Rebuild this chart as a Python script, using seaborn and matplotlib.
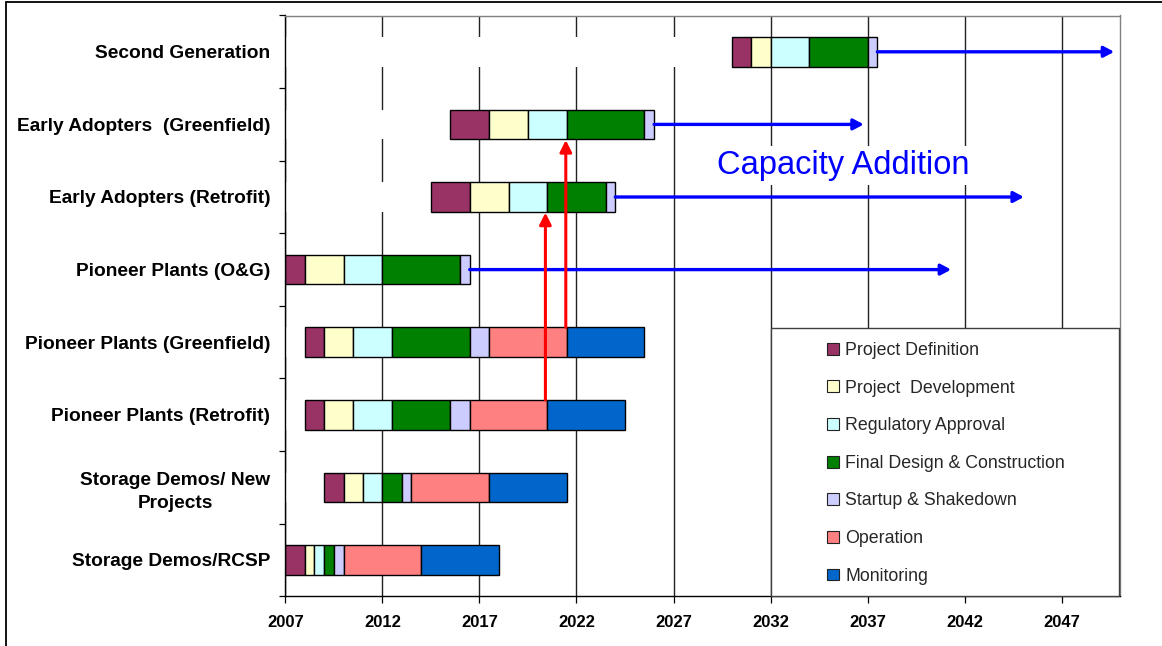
import matplotlib
matplotlib.use("Agg")
import matplotlib.pyplot as plt
from matplotlib.patches import Patch, Rectangle
from matplotlib.ticker import FixedLocator
import numpy as np
import pandas as pd
import seaborn as sns

# Rows of the roadmap, top to bottom
rows = [
    "Second Generation",
    "Early Adopters  (Greenfield)",
    "Early Adopters (Retrofit)",
    "Pioneer Plants (O&G)",
    "Pioneer Plants (Greenfield)",
    "Pioneer Plants (Retrofit)",
    "Storage Demos/ New\nProjects",
    "Storage Demos/RCSP",
]

phases = [
    "Project Definition",
    "Project  Development",
    "Regulatory Approval",
    "Final Design & Construction",
    "Startup & Shakedown",
    "Operation",
    "Monitoring",
]
phase_colors = ["#993366", "#FFFFCC", "#CCFFFF", "#008000", "#CCCCFF", "#FF8080", "#0066CC"]

# Start year of each row and the length (years) of each phase
start_year = [2030, 2015.5, 2014.5, 2007, 2008, 2008, 2009, 2007]
project_definition = [1, 2, 2, 1, 1, 1, 1, 1]
project_development = [1, 2, 2, 2, 1.5, 1.5, 1, 0.5]
regulatory_approval = [2, 2, 2, 2, 2, 2, 1, 0.5]
final_design_construction = [3, 4, 3, 4, 4, 3, 1, 0.5]
startup_shakedown = [0.5, 0.5, 0.5, 0.5, 1, 1, 0.5, 0.5]
operation = [0, 0, 0, 0, 4, 4, 4, 4]
monitoring = [0, 0, 0, 0, 4, 4, 4, 4]

# Capacity addition arrows (row, year reached)
capacity_rows = rows[:4]
capacity_end = [2049.7, 2036.8, 2045.05, 2041.3]

# Hand-off arrows from pioneer operation to early adopter construction
handoff_from = ["Pioneer Plants (Retrofit)", "Pioneer Plants (Greenfield)"]
handoff_to = ["Early Adopters (Retrofit)", "Early Adopters  (Greenfield)"]
handoff_year = [2020.4, 2021.45]

axis_start, axis_end = 2007, 2050
year_ticks = list(range(2007, 2048, 5))

durations = [project_definition, project_development, regulatory_approval,
             final_design_construction, startup_shakedown, operation, monitoring]

records = []
for i, row in enumerate(rows):
    left = start_year[i]
    for p, d in zip(phases, durations):
        if d[i] > 0:
            records.append(dict(row=row, phase=p, left=left, duration=d[i]))
        left += d[i]
segments = pd.DataFrame(records)
spacers = pd.DataFrame(dict(row=rows, duration=[s - axis_start for s in start_year]))
spacers = spacers[spacers["duration"] > 0]

sns.set_theme(style="white")
plt.rcParams["font.family"] = ["Liberation Sans", "DejaVu Sans"]

fig = plt.figure(figsize=(11.62, 6.46), dpi=100)
ax = fig.add_axes([285.3 / 1162, 1 - 596.3 / 646, (1120 - 285.3) / 1162, (596.3 - 15.5) / 646])

bar_h = 0.41

# White spacers keep the grid lines from running through the empty lead-in of each row
sns.barplot(data=spacers, x="duration", y="row", order=rows,
            left=np.full(len(spacers), axis_start), width=bar_h, color="white",
            saturation=1, linewidth=0, errorbar=None, ax=ax)

for p, c in zip(phases, phase_colors):
    sub = segments[segments["phase"] == p]
    sns.barplot(data=sub, x="duration", y="row", order=rows,
                left=sub["left"].to_numpy(), width=bar_h, color=c, saturation=1,
                edgecolor="black", linewidth=1.0, errorbar=None, ax=ax)

ax.set_xlim(axis_start, axis_end)
ax.set_ylim(len(rows) - 0.5, -0.5)
ax.set_xlabel("")
ax.set_ylabel("")

# Grid and axes styling
ax.set_axisbelow(True)
ax.set_xticks(year_ticks)
ax.set_xticklabels([str(y) for y in year_ticks], fontsize=12, fontweight="bold")
ax.xaxis.grid(True, color="#222222", linewidth=1.0)
ax.yaxis.grid(False)
ax.tick_params(axis="x", direction="out", length=5, width=0.9, color="black", pad=8.5,
               bottom=True, labelcolor="black")
ax.tick_params(axis="y", which="major", length=0, pad=10.8, left=True)
ax.yaxis.set_minor_locator(FixedLocator(np.arange(-0.5, len(rows), 1.0)))
ax.tick_params(axis="y", which="minor", direction="out", length=4.3, width=0.9,
               color="black", left=True)
for t in ax.get_yticklabels():
    t.set_fontweight("bold")
    t.set_fontsize(13.8)
    t.set_color("black")
    t.set_multialignment("center")
    t.set_linespacing(1.45)

for side in ["left", "bottom"]:
    ax.spines[side].set_color("black")
    ax.spines[side].set_linewidth(1.0)
for side in ["top", "right"]:
    ax.spines[side].set_color("#808080")
    ax.spines[side].set_linewidth(1.0)

row_pos = {r: i for i, r in enumerate(rows)}

# Capacity addition arrows
for r, end in zip(capacity_rows, capacity_end):
    i = row_pos[r]
    bar_end = start_year[i] + sum(d[i] for d in durations)
    ax.annotate("", xy=(end, i), xytext=(bar_end, i),
                arrowprops=dict(arrowstyle="-|>,head_length=0.6,head_width=0.32",
                                color="#0000FF", lw=2.4, shrinkA=0, shrinkB=0,
                                mutation_scale=10),
                zorder=3)

# Hand-off arrows
for src, dst, yr in zip(handoff_from, handoff_to, handoff_year):
    ax.annotate("", xy=(yr, row_pos[dst] + bar_h / 2 + 0.01),
                xytext=(yr, row_pos[src] - bar_h / 2),
                arrowprops=dict(arrowstyle="-|>,head_length=0.7,head_width=0.35",
                                color="#FF0000", lw=2.2, shrinkA=0, shrinkB=0,
                                mutation_scale=10),
                zorder=4)

ax.text(2035.74, 1.68, "Capacity Addition", color="#0000FF", fontsize=23.5,
        ha="center", va="baseline", zorder=3.5,
        bbox=dict(boxstyle="square,pad=0.12", facecolor="white", edgecolor="none"))

# Legend panel
lx0 = (771 - 285.3) / (1120 - 285.3)
lw_ = (1119 - 771) / (1120 - 285.3)
lh = (596.3 - 328.3) / (596.3 - 15.5)
ax.add_patch(Rectangle((lx0, 0), lw_, lh, transform=ax.transAxes, facecolor="white",
                       edgecolor="#404040", linewidth=1.0, zorder=4.5, clip_on=False))
handles = [Patch(facecolor=c, edgecolor="#222222", linewidth=0.8, label=p)
           for p, c in zip(phases, phase_colors)]
leg = ax.legend(handles=handles, loc="upper left",
                bbox_to_anchor=((827 - 285.3) / (1120 - 285.3), (596.3 - 342) / (596.3 - 15.5)),
                frameon=False, fontsize=12.8, borderpad=0, borderaxespad=0,
                handlelength=0.66, handleheight=0.66, handletextpad=0.38,
                labelspacing=1.16)
leg.set_zorder(5)

# Outer frame of the figure
fig.patches.append(Rectangle((6 / 1162, -0.02), 1.05, 1 - 2 / 646 + 0.02,
                             transform=fig.transFigure, facecolor="none",
                             edgecolor="black", linewidth=1.3))

fig.savefig("out.png", dpi=100)
